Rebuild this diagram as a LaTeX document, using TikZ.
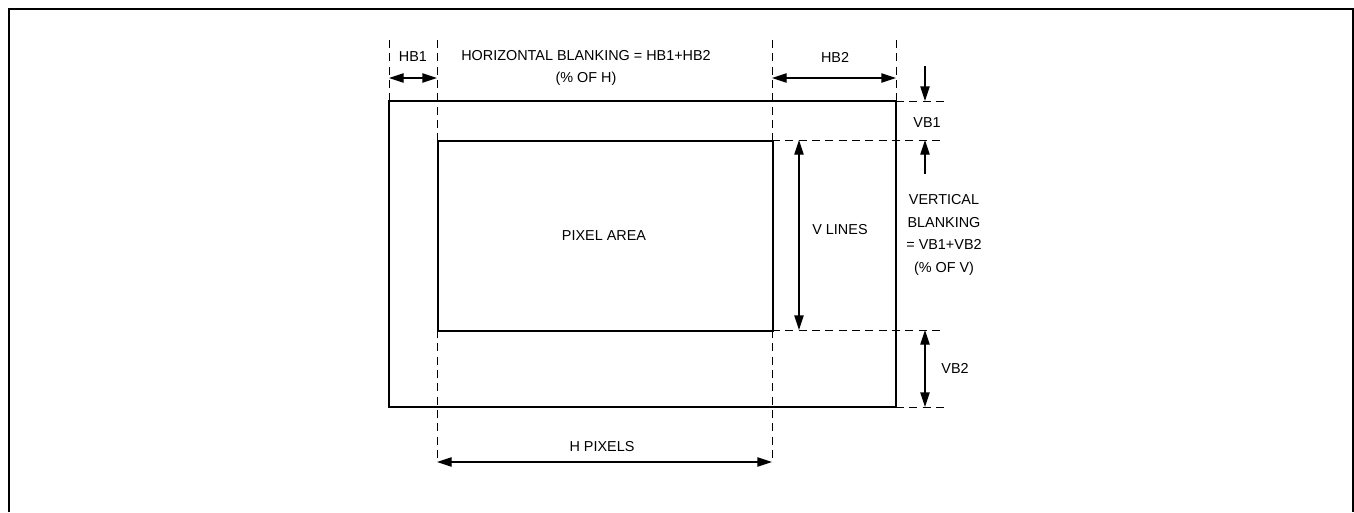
\documentclass[tikz,border=0pt]{standalone}
\usepackage{fontspec}
\setmainfont{Liberation Sans}
\usetikzlibrary{arrows.meta}
\begin{document}
\begin{tikzpicture}[x=0.75pt,y=-0.75pt,
  lbl/.style={font=\fontsize{10.8}{17}\selectfont, inner sep=0pt, align=center},
  thick line/.style={line width=1.5pt},
  guide/.style={line width=0.75pt, dash pattern=on 6pt off 4pt},
  dim/.style={line width=1pt, {Triangle[length=11pt,width=7pt]}-{Triangle[length=11pt,width=7pt]}},
  onehead/.style={line width=1pt, -{Triangle[length=11pt,width=7pt]}}]
\useasboundingbox (0,0) rectangle (1354,512);
% outer frame
\draw[thick line] (9,512) -- (9,9) -- (1352.5,9) -- (1352.5,512);
% rectangles
\draw[thick line] (389,101) rectangle (896,407);
\node[draw, thick line, minimum width=335*0.75pt, minimum height=190*0.75pt, inner sep=0pt, anchor=north west] (pix) at (437,140) {};
\node[lbl] (pixlbl) at (604,236) {PIXEL AREA};
% coordinates
\coordinate (a1) at (389,40);
\coordinate (a2) at (389,101);
\coordinate (b1) at (437,40);
\coordinate (b2) at (437,462);
\coordinate (c1) at (772,40);
\coordinate (c2) at (772,462);
\coordinate (d1) at (896,40);
\coordinate (d2) at (896,101);
% guides
\draw[guide] (a1) -- (a2);
\draw[guide] (b1) -- (437,140);
\draw[guide] (437,330) -- (b2);
\draw[guide] (c1) -- (772,140);
\draw[guide] (772,330) -- (c2);
\draw[guide] (d1) -- (d2);
\draw[guide] (896,101) -- (945,101);
\draw[guide] (772,140) -- (945,140);
\draw[guide] (772,330) -- (945,330);
\draw[guide] (896,407) -- (945,407);
% HB1
\coordinate (hb1l) at (389,78);
\coordinate (hb1r) at (437,78);
\draw[dim] (hb1l) -- (hb1r);
\node[lbl] (hb1) at (413,57) {HB1};
% Horizontal blanking
\node[lbl] (hbk) at (586,68) {HORIZONTAL BLANKING = HB1+HB2\\(\% OF H)};
% HB2
\coordinate (hb2l) at (772,78);
\coordinate (hb2r) at (896,78);
\draw[dim] (hb2l) -- (hb2r);
\node[lbl] (hb2) at (835,57) {HB2};
% VB1
\coordinate (vb1a) at (925,66);
\coordinate (vb1b) at (925,101);
\coordinate (vb1c) at (925,174);
\coordinate (vb1d) at (925,140);
\draw[onehead] (vb1a) -- (vb1b);
\draw[onehead] (vb1c) -- (vb1d);
\node[lbl] (vb1) at (927,123) {VB1};
% V lines
\coordinate (vl1) at (799,140);
\coordinate (vl2) at (799,330);
\draw[dim] (vl1) -- (vl2);
\node[lbl] (vlines) at (840,230) {V LINES};
% Vertical blanking
\node[lbl, align=center] (vbk) at (944,235) {VERTICAL\\BLANKING\\= VB1+VB2\\(\% OF V)};
% VB2
\coordinate (vb2a) at (925,330);
\coordinate (vb2b) at (925,407);
\draw[dim] (vb2a) -- (vb2b);
\node[lbl] (vb2) at (955,368) {VB2};
% H pixels
\coordinate (hp1) at (437,462);
\coordinate (hp2) at (772,462);
\draw[dim] (hp1) -- (hp2);
\node[lbl] (hpix) at (602,447) {H PIXELS};
\end{tikzpicture}
\end{document}
